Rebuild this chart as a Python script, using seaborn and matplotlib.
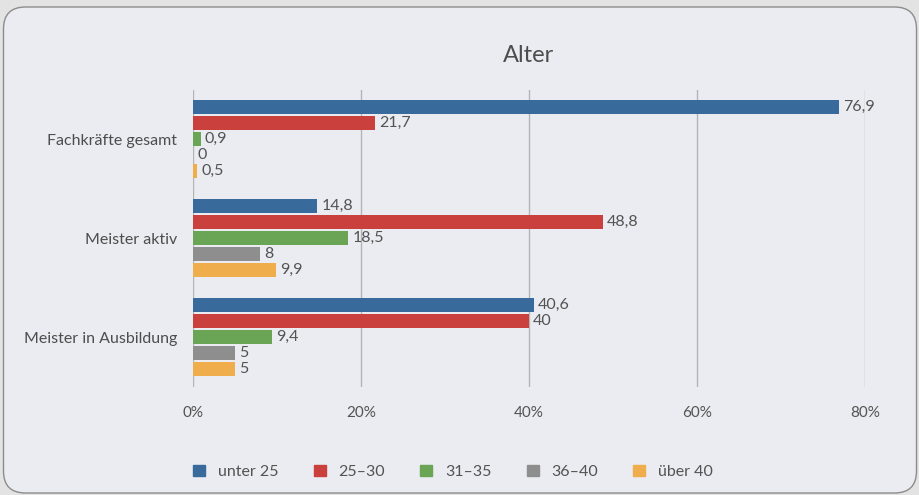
import numpy as np
import pandas as pd
import matplotlib
matplotlib.use("Agg")
import matplotlib.pyplot as plt
import seaborn as sns
from matplotlib.patches import FancyBboxPatch
from matplotlib.transforms import IdentityTransform

# data
categories = ["Fachkräfte gesamt", "Meister aktiv", "Meister in Ausbildung"]
age_groups = ["unter 25", "25–30", "31–35", "36–40", "über 40"]
unter_25 = [76.9, 14.8, 40.6]
a_25_30 = [21.7, 48.8, 40.0]
a_31_35 = [0.9, 18.5, 9.4]
a_36_40 = [0.0, 8.0, 5.0]
ueber_40 = [0.5, 9.9, 5.0]
x_ticks = [0, 20, 40, 60, 80]

colors = ["#386a9c", "#c9403d", "#6aa455", "#8e8e8e", "#f0ad4b"]
text_color = "#535353"

series = [unter_25, a_25_30, a_31_35, a_36_40, ueber_40]
rows = []
for grp, vals in zip(age_groups, series):
    for cat, v in zip(categories, vals):
        rows.append({"Kategorie": cat, "Alter": grp, "Wert": v})
df = pd.DataFrame(rows)

sns.set_style("white")
plt.rcParams["font.family"] = ["Lato", "DejaVu Sans"]

fig = plt.figure(figsize=(9.2, 4.95), dpi=100, facecolor="#e3e3e3")

# rounded panel behind the chart
panel = FancyBboxPatch((3.5, 2), 913, 486, boxstyle="round,pad=0,rounding_size=22",
                       transform=IdentityTransform(), facecolor="#ebecf1",
                       edgecolor="#8c8c8c", linewidth=1.0, zorder=-10)
fig.patches.append(panel)

ax = fig.add_axes([193 / 920, 1 - 386.5 / 495, 672 / 920, 297 / 495])
ax.set_facecolor("none")

sns.barplot(data=df, x="Wert", y="Kategorie", hue="Alter", order=categories,
            hue_order=age_groups, palette=colors, orient="h", width=0.8,
            gap=0.12, saturation=1, linewidth=0, ax=ax, legend=False)

for cont, vals in zip(ax.containers, series):
    labels = [f"{v:g}".replace(".", ",") for v in vals]
    ax.bar_label(cont, labels=labels, padding=3, fontsize=11.5,
                 color=text_color)

ax.set_xlim(0, 80)
ax.set_ylim(2.5, -0.5)
ax.set_xticks(x_ticks)
ax.set_xticklabels([f"{t}%" for t in x_ticks])
ax.grid(axis="x", color="#b4b4b4", linewidth=1.0)
ax.set_axisbelow(True)
for s in ax.spines.values():
    s.set_visible(False)
ax.tick_params(axis="x", length=0, pad=14, labelsize=11,
               labelcolor=text_color)
ax.tick_params(axis="y", length=0, pad=11.5, labelsize=11.5, labelcolor="#4d4d4d")
ax.set_xlabel("")
ax.set_ylabel("")

fig.text(529 / 920, 1 - 55 / 495, "Alter", ha="center", va="center",
         fontsize=17, color="#4d4d4d")

handles = [plt.Rectangle((0, 0), 1, 1, color=c) for c in colors]
fig.legend(handles, age_groups, loc="center left",
           bbox_to_anchor=(179 / 920, 1 - 472 / 495), ncol=5, frameon=False,
           fontsize=11.5, labelcolor=text_color, handlelength=0.75,
           handleheight=0.75, handletextpad=0.8, columnspacing=2.2)

fig.savefig("out.png", dpi=100, facecolor=fig.get_facecolor())
